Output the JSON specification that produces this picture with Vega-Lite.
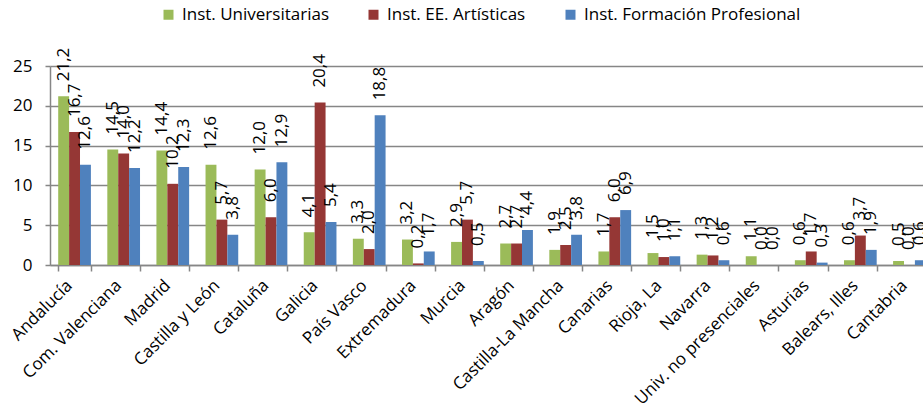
{
  "$schema": "https://vega.github.io/schema/vega-lite/v6.json",
  "autosize": "none",
  "width": 873,
  "height": 199,
  "padding": {"left": 50, "top": 66, "right": 0, "bottom": 147},
  "background": "white",
  "config": {
    "font": "Open Sans",
    "locale": {"number": {"decimal": ",", "thousands": ".", "grouping": [3], "currency": ["", " €"]}},
    "view": {"stroke": null},
    "axis": {"labelFont": "Open Sans", "labelColor": "#000000", "labelFontSize": 17, "domainColor": "#868686", "tickColor": "#868686", "gridColor": "#868686", "domainWidth": 1.5, "tickWidth": 1.5, "gridWidth": 1.5, "title": null}
  },
  "data": {
    "values": [
      {"region": "Andalucía", "serie": "Inst. Universitarias", "value": 21.2},
      {"region": "Andalucía", "serie": "Inst. EE. Artísticas", "value": 16.7},
      {"region": "Andalucía", "serie": "Inst. Formación Profesional", "value": 12.6},
      {"region": "Com. Valenciana", "serie": "Inst. Universitarias", "value": 14.5},
      {"region": "Com. Valenciana", "serie": "Inst. EE. Artísticas", "value": 14.0},
      {"region": "Com. Valenciana", "serie": "Inst. Formación Profesional", "value": 12.2},
      {"region": "Madrid", "serie": "Inst. Universitarias", "value": 14.4},
      {"region": "Madrid", "serie": "Inst. EE. Artísticas", "value": 10.2},
      {"region": "Madrid", "serie": "Inst. Formación Profesional", "value": 12.3},
      {"region": "Castilla y León", "serie": "Inst. Universitarias", "value": 12.6},
      {"region": "Castilla y León", "serie": "Inst. EE. Artísticas", "value": 5.7},
      {"region": "Castilla y León", "serie": "Inst. Formación Profesional", "value": 3.8},
      {"region": "Cataluña", "serie": "Inst. Universitarias", "value": 12.0},
      {"region": "Cataluña", "serie": "Inst. EE. Artísticas", "value": 6.0},
      {"region": "Cataluña", "serie": "Inst. Formación Profesional", "value": 12.9},
      {"region": "Galicia", "serie": "Inst. Universitarias", "value": 4.1},
      {"region": "Galicia", "serie": "Inst. EE. Artísticas", "value": 20.4},
      {"region": "Galicia", "serie": "Inst. Formación Profesional", "value": 5.4},
      {"region": "País Vasco", "serie": "Inst. Universitarias", "value": 3.3},
      {"region": "País Vasco", "serie": "Inst. EE. Artísticas", "value": 2.0},
      {"region": "País Vasco", "serie": "Inst. Formación Profesional", "value": 18.8},
      {"region": "Extremadura", "serie": "Inst. Universitarias", "value": 3.2},
      {"region": "Extremadura", "serie": "Inst. EE. Artísticas", "value": 0.2},
      {"region": "Extremadura", "serie": "Inst. Formación Profesional", "value": 1.7},
      {"region": "Murcia", "serie": "Inst. Universitarias", "value": 2.9},
      {"region": "Murcia", "serie": "Inst. EE. Artísticas", "value": 5.7},
      {"region": "Murcia", "serie": "Inst. Formación Profesional", "value": 0.5},
      {"region": "Aragón", "serie": "Inst. Universitarias", "value": 2.7},
      {"region": "Aragón", "serie": "Inst. EE. Artísticas", "value": 2.7},
      {"region": "Aragón", "serie": "Inst. Formación Profesional", "value": 4.4},
      {"region": "Castilla-La Mancha", "serie": "Inst. Universitarias", "value": 1.9},
      {"region": "Castilla-La Mancha", "serie": "Inst. EE. Artísticas", "value": 2.5},
      {"region": "Castilla-La Mancha", "serie": "Inst. Formación Profesional", "value": 3.8},
      {"region": "Canarias", "serie": "Inst. Universitarias", "value": 1.7},
      {"region": "Canarias", "serie": "Inst. EE. Artísticas", "value": 6.0},
      {"region": "Canarias", "serie": "Inst. Formación Profesional", "value": 6.9},
      {"region": "Rioja, La", "serie": "Inst. Universitarias", "value": 1.5},
      {"region": "Rioja, La", "serie": "Inst. EE. Artísticas", "value": 1.0},
      {"region": "Rioja, La", "serie": "Inst. Formación Profesional", "value": 1.1},
      {"region": "Navarra", "serie": "Inst. Universitarias", "value": 1.3},
      {"region": "Navarra", "serie": "Inst. EE. Artísticas", "value": 1.2},
      {"region": "Navarra", "serie": "Inst. Formación Profesional", "value": 0.6},
      {"region": "Univ. no presenciales", "serie": "Inst. Universitarias", "value": 1.1},
      {"region": "Univ. no presenciales", "serie": "Inst. EE. Artísticas", "value": 0.0},
      {"region": "Univ. no presenciales", "serie": "Inst. Formación Profesional", "value": 0.0},
      {"region": "Asturias", "serie": "Inst. Universitarias", "value": 0.6},
      {"region": "Asturias", "serie": "Inst. EE. Artísticas", "value": 1.7},
      {"region": "Asturias", "serie": "Inst. Formación Profesional", "value": 0.3},
      {"region": "Balears, Illes", "serie": "Inst. Universitarias", "value": 0.6},
      {"region": "Balears, Illes", "serie": "Inst. EE. Artísticas", "value": 3.7},
      {"region": "Balears, Illes", "serie": "Inst. Formación Profesional", "value": 1.9},
      {"region": "Cantabria", "serie": "Inst. Universitarias", "value": 0.5},
      {"region": "Cantabria", "serie": "Inst. EE. Artísticas", "value": 0.0},
      {"region": "Cantabria", "serie": "Inst. Formación Profesional", "value": 0.6}
    ]
  },
  "encoding": {
    "x": {
      "field": "region", "type": "nominal", "sort": null,
      "scale": {"range": [0, 884], "paddingInner": 0.334, "paddingOuter": 0.167},
      "axis": {"labelAngle": -45, "labelAlign": "right", "labelBaseline": "top", "labelOffset": -11, "tickBand": "extent", "tickSize": 6, "labelPadding": 6, "grid": false, "labelLimit": 300}
    },
    "xOffset": {"field": "serie", "type": "nominal", "sort": ["Inst. Universitarias", "Inst. EE. Artísticas", "Inst. Formación Profesional"], "scale": {"paddingInner": 0, "paddingOuter": 0}},
    "y": {
      "field": "value", "type": "quantitative",
      "scale": {"domain": [0, 25], "nice": false},
      "axis": {"values": [0, 5, 10, 15, 20, 25], "tickSize": 5, "labelPadding": 13, "grid": true, "format": "d"}
    }
  },
  "layer": [
    {
      "mark": {"type": "bar"},
      "encoding": {
        "color": {
          "field": "serie", "type": "nominal",
          "scale": {"domain": ["Inst. Universitarias", "Inst. EE. Artísticas", "Inst. Formación Profesional"], "range": ["#9BBB59", "#953735", "#4F81BD"]},
          "legend": {"title": null, "orient": "none", "direction": "horizontal", "legendX": 110, "legendY": -60, "symbolType": "square", "symbolSize": 100, "symbolStrokeWidth": 0, "labelFontSize": 17, "labelFont": "Open Sans", "labelColor": "#000000", "labelOffset": 5, "labelLimit": 400, "columnPadding": 36}
        }
      }
    },
    {
      "mark": {"type": "text", "angle": 270, "align": "left", "baseline": "middle", "dx": 15, "fontSize": 17, "font": "Open Sans", "color": "#000000"},
      "encoding": {
        "text": {"field": "value", "type": "quantitative", "format": ".1f"}
      }
    }
  ]
}
